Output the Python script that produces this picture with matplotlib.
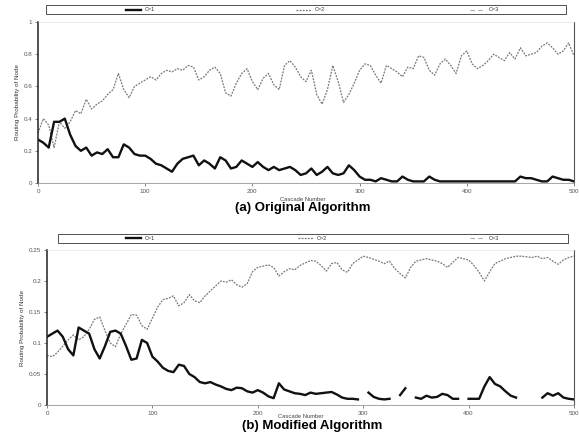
import matplotlib
matplotlib.use("Agg")
import matplotlib.pyplot as plt
from matplotlib.lines import Line2D
from matplotlib.patches import Rectangle
import numpy as np

plt.rcParams['font.family'] = ['Liberation Sans', 'DejaVu Sans']

# cascade index, sampled every 5 cascades
cascades = np.arange(0, 501, 5)
labels = ["C=1", "C=2", "C=3"]

# (a) original algorithm
orig_c1 = [0.27, 0.25, 0.22, 0.38, 0.38, 0.40, 0.30, 0.23, 0.20, 0.22,
           0.17, 0.19, 0.18, 0.21, 0.16, 0.16, 0.24, 0.22, 0.18, 0.17,
           0.17, 0.15, 0.12, 0.11, 0.09, 0.07, 0.12, 0.15, 0.16, 0.17,
           0.11, 0.14, 0.12, 0.09, 0.16, 0.14, 0.09, 0.10, 0.14, 0.12,
           0.10, 0.13, 0.10, 0.08, 0.10, 0.08, 0.09, 0.10, 0.08, 0.05,
           0.06, 0.09, 0.05, 0.07, 0.10, 0.06, 0.05, 0.06, 0.11, 0.08,
           0.04, 0.02, 0.02, 0.01, 0.03, 0.02, 0.01, 0.01, 0.04, 0.02,
           0.01, 0.01, 0.01, 0.04, 0.02, 0.01, 0.01, 0.01, 0.01, 0.01,
           0.01, 0.01, 0.01, 0.01, 0.01, 0.01, 0.01, 0.01, 0.01, 0.01,
           0.04, 0.03, 0.03, 0.02, 0.01, 0.01, 0.04, 0.03, 0.02, 0.02,
           0.01]
orig_c2 = [0.31, 0.40, 0.36, 0.22, 0.38, 0.34, 0.38, 0.45, 0.43, 0.52,
           0.46, 0.49, 0.51, 0.55, 0.58, 0.68, 0.58, 0.53, 0.60, 0.62,
           0.64, 0.66, 0.64, 0.68, 0.70, 0.69, 0.71, 0.70, 0.73, 0.72,
           0.64, 0.66, 0.70, 0.72, 0.68, 0.56, 0.54, 0.62, 0.68, 0.71,
           0.63, 0.58, 0.65, 0.68, 0.61, 0.58, 0.73, 0.76, 0.72, 0.66,
           0.63, 0.70, 0.55, 0.49, 0.58, 0.73, 0.63, 0.50, 0.55, 0.62,
           0.70, 0.74, 0.73, 0.67, 0.62, 0.73, 0.71, 0.69, 0.66, 0.72,
           0.71, 0.79, 0.78, 0.70, 0.67, 0.74, 0.77, 0.73, 0.68, 0.79,
           0.82, 0.74, 0.71, 0.73, 0.76, 0.80, 0.78, 0.76, 0.81, 0.77,
           0.84, 0.79, 0.80, 0.81, 0.85, 0.87, 0.84, 0.80, 0.82, 0.87,
           0.79]
orig_c3 = [0.0] * 101

# (b) modified algorithm, gaps where the trace drops out
nan = np.nan
mod_c1 = [0.110, 0.115, 0.120, 0.110, 0.090, 0.080, 0.125, 0.120, 0.115, 0.090,
          0.075, 0.095, 0.118, 0.120, 0.115, 0.095, 0.073, 0.075, 0.105, 0.100,
          0.078, 0.070, 0.060, 0.055, 0.053, 0.065, 0.063, 0.050, 0.045, 0.037,
          0.035, 0.037, 0.033, 0.030, 0.026, 0.024, 0.028, 0.027, 0.022, 0.020,
          0.024, 0.020, 0.014, 0.011, 0.035, 0.025, 0.022, 0.019, 0.018, 0.016,
          0.020, 0.018, 0.019, 0.020, 0.021, 0.017, 0.012, 0.010, 0.010, 0.009,
          nan, 0.020, 0.013, 0.010, 0.009, 0.010, nan, 0.016, 0.027, nan,
          0.012, 0.010, 0.015, 0.012, 0.013, 0.018, 0.016, 0.010, 0.010, nan,
          0.010, 0.010, 0.010, 0.030, 0.045, 0.034, 0.030, 0.022, 0.015, 0.012,
          nan, nan, nan, nan, 0.012, 0.019, 0.015, 0.019, 0.012, 0.010,
          0.009]
mod_c2 = [0.080, 0.078, 0.085, 0.095, 0.105, 0.113, 0.105, 0.110, 0.122, 0.138,
          0.142, 0.120, 0.100, 0.094, 0.115, 0.130, 0.146, 0.145, 0.128, 0.122,
          0.140, 0.158, 0.170, 0.172, 0.176, 0.160, 0.165, 0.178, 0.168, 0.165,
          0.176, 0.184, 0.192, 0.200, 0.198, 0.202, 0.194, 0.190, 0.196, 0.215,
          0.222, 0.224, 0.226, 0.222, 0.208, 0.215, 0.220, 0.218, 0.225, 0.229,
          0.233, 0.232, 0.225, 0.216, 0.228, 0.230, 0.218, 0.214, 0.228, 0.234,
          0.240, 0.238, 0.235, 0.232, 0.228, 0.232, 0.220, 0.212, 0.205, 0.222,
          0.232, 0.234, 0.236, 0.234, 0.232, 0.228, 0.222, 0.230, 0.238, 0.236,
          0.234, 0.225, 0.214, 0.200, 0.215, 0.228, 0.232, 0.236, 0.238, 0.240,
          0.240, 0.239, 0.238, 0.240, 0.236, 0.238, 0.232, 0.227, 0.234, 0.238,
          0.240]
mod_c3 = [0.0] * 101

orig_ticks = [0, 0.2, 0.4, 0.6, 0.8, 1.0]
orig_ticklabels = ["0", "0.2", "0.4", "0.6", "0.8", "1"]
mod_ticks = [0, 0.05, 0.10, 0.15, 0.20, 0.25]
mod_ticklabels = ["0", "0.05", "0.1", "0.15", "0.2", "0.25"]
x_ticks = [0, 100, 200, 300, 400, 500]

W, H = 579, 433
styles = [dict(color="#111111", lw=1.7),
          dict(color="#777777", lw=0.9, ls=(0, (1.5, 1))),
          dict(color="#aaaaaa", lw=0.8, ls=(0, (4, 3)))]


def panel(ax, c1, c2, c3, yticks, yticklabels, ytop):
    ax.plot(cascades, c3, **styles[2])
    ax.plot(cascades, c2, **styles[1])
    ax.plot(cascades, c1, **styles[0])
    ax.set_xlim(0, 500)
    ax.set_ylim(0, ytop)
    ax.set_xticks(x_ticks)
    ax.set_xticklabels([str(t) for t in x_ticks])
    ax.set_yticks(yticks)
    ax.set_yticklabels(yticklabels)
    ax.tick_params(labelsize=4.5, length=2, width=0.5, colors="#555555", pad=2)
    ax.spines['left'].set_color("#222222")
    ax.spines['left'].set_linewidth(1.1)
    ax.spines['bottom'].set_color("#999999")
    ax.spines['bottom'].set_linewidth(0.6)
    ax.spines['top'].set_color("#dddddd")
    ax.spines['top'].set_linewidth(0.4)
    ax.spines['right'].set_color("#555555")
    ax.spines['right'].set_linewidth(0.8)
    ax.set_ylabel("Routing Probability of Node", fontsize=4.5, color="#333333", labelpad=3)


def legend_strip(x0, x1, y0, y1, entries):
    # boxed legend strip across the top of a panel (pixel coords)
    tf = fig.transFigure
    fig.patches.append(Rectangle((x0 / W, 1 - y1 / H), (x1 - x0) / W, (y1 - y0) / H,
                                 transform=tf, fill=False, ec="#333333", lw=0.6))
    ym = 1 - (y0 + y1) / 2 / H
    for (hx, tx), st, lab in zip(entries, styles, labels):
        fig.lines.append(Line2D([hx / W, (hx + 15) / W], [ym, ym], transform=tf, **st))
        fig.text(tx / W, ym, lab, fontsize=4, va="center", ha="left", color="#333333")


fig = plt.figure(figsize=(W / 100, H / 100), dpi=100)
ax1 = fig.add_axes([38 / W, 1 - 183 / H, 536 / W, 161 / H])
ax2 = fig.add_axes([47 / W, 1 - 405 / H, 527 / W, 155 / H])

panel(ax1, orig_c1, orig_c2, orig_c3, orig_ticks, orig_ticklabels, 1.0)
panel(ax2, mod_c1, mod_c2, mod_c3, mod_ticks, mod_ticklabels, 0.25)

legend_strip(46, 566, 5, 14, [(126, 145), (296, 315), (470, 489)])
legend_strip(58, 568, 234, 243, [(126, 145), (298, 317), (470, 489)])

fig.text(303 / W, 1 - 199 / H, "Cascade Number", ha="center", va="center",
         fontsize=4.2, color="#444444")
fig.text(303 / W, 1 - 208 / H, "(a) Original Algorithm", ha="center", va="center",
         fontsize=9.5, fontweight="bold")
fig.text(301 / W, 1 - 417 / H, "Cascade Number", ha="center", va="center",
         fontsize=4.2, color="#444444")
fig.text(312 / W, 1 - 426 / H, "(b) Modified Algorithm", ha="center", va="center",
         fontsize=9.5, fontweight="bold")

fig.savefig("out.png", dpi=100)
